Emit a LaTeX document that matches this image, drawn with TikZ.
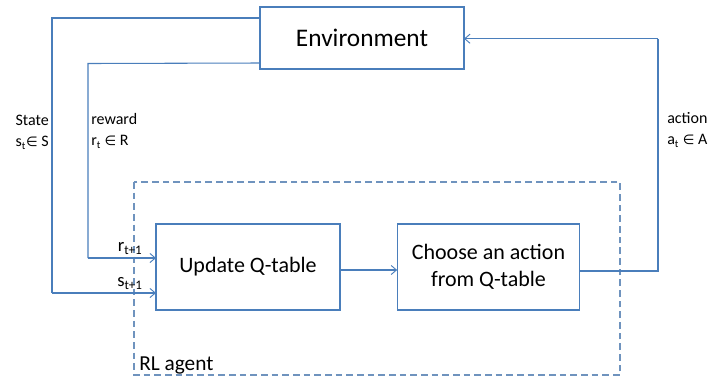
\documentclass[tikz,border=0pt]{standalone}
\usepackage{fontspec}
\setmainfont{Carlito}
\newfontfamily\symfont{DejaVu Sans}
\usetikzlibrary{arrows.meta,positioning,calc}
\definecolor{qline}{HTML}{4A7EBB}
\definecolor{qframe}{HTML}{6F93BE}
\tikzset{
  stepbox/.style = {draw=qline, line width=0.8pt, rectangle, inner sep=0pt,
                    outer sep=0pt, align=center, font=\fontsize{16.5}{20}\selectfont},
  lbl/.style     = {font=\fontsize{12}{16}\selectfont, inner sep=0pt},
  sublbl/.style  = {font=\fontsize{14}{16}\selectfont, inner sep=0pt},
  sig/.style     = {-{Straight Barb[length=1.4mm,width=2.4mm,line width=0.7pt]},
                    draw=qline, line width=0.8pt},
  wire/.style    = {draw=qline, line width=0.8pt},
}
\newcommand{\elem}{{\symfont\fontsize{10}{12}\selectfont ∈}}
\begin{document}
\begin{tikzpicture}[x=0.75pt,y=-0.75pt]
\useasboundingbox (0,0) rectangle (711,376);
% boxes
\node[stepbox, minimum width=153pt, minimum height=46.5pt,
      font=\fontsize{19}{22}\selectfont] (env) at (362,38) {Environment};
\node[stepbox, minimum width=138pt, minimum height=64.5pt] (update) at (248,267) {Update Q-table};
\node[stepbox, minimum width=137pt, minimum height=64.5pt] (choose) at (488.5,267) {Choose an action\\from Q-table};
\draw[qframe, line width=0.8pt, dash pattern=on 5pt off 3pt] (134,182) rectangle (620,375);
\node[font=\fontsize{16}{18}\selectfont, anchor=base west, inner sep=0pt] (agent) at (139,370) {RL agent};
% loop coordinates
\coordinate (sTop) at ($(env.north west)+(0,11)$);
\coordinate (rTop) at ($(env.south west)+(0,-6)$);
\coordinate (sIn) at ($(update.west)+(0,26)$);
\coordinate (rIn) at ($(update.west)+(0,-9)$);
\coordinate (aOut) at ($(choose.east)+(0,4)$);
\draw[wire] (sTop) -- (52,18) -- (52,293) coordinate (sCorner);
\draw[sig] (sCorner) -- node[sublbl, above=2pt, pos=0.75]{s\textsubscript{t+1}} (sIn);
\draw[wire] (rTop) -- (88,63.5) -- (88,258) coordinate (rCorner);
\draw[sig] (rCorner) -- node[sublbl, above=2pt, pos=0.62]{r\textsubscript{t+1}} (rIn);
\draw[sig] (update.east |- 0,270) -- (choose.west |- 0,270);
\draw[wire] (aOut) -- (658,271) -- (658,38.7) coordinate (aCorner);
\draw[sig] (aCorner) -- (env.east |- aCorner);
% signal labels
\node[lbl, anchor=north east, align=right] (state) at (49,115) {State\\s\textsubscript{t}\elem{} S};
\node[lbl, anchor=north west, align=left] (reward) at (91,113) {reward\\r\textsubscript{t} \elem{} R};
\node[lbl, anchor=north west, align=left] (action) at (667,112) {action\\a\textsubscript{t} \elem{} A};
\end{tikzpicture}
\end{document}
